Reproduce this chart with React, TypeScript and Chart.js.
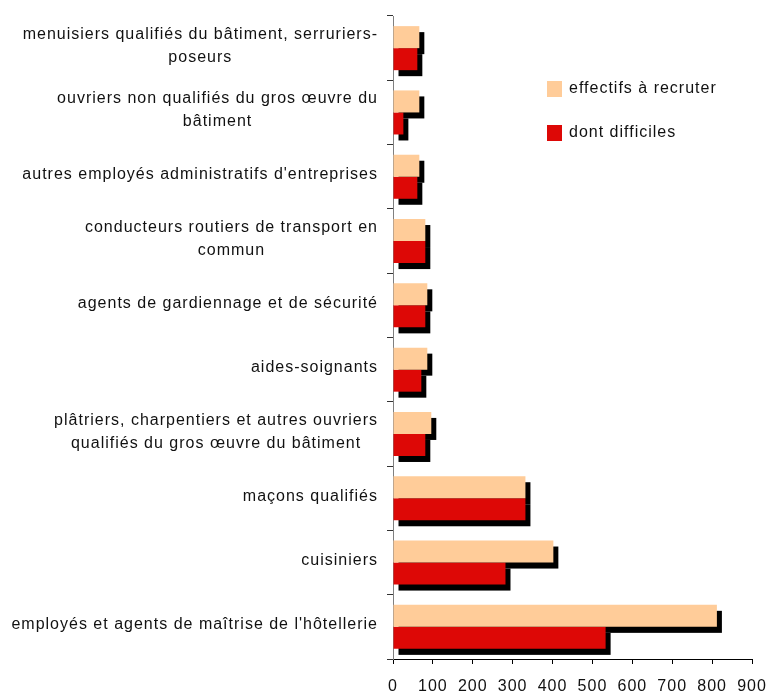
import React, { useEffect, useRef } from 'react';
import { Chart, registerables } from 'chart.js';

Chart.register(...registerables);

const categories: string[][] = [
  ['menuisiers qualifiés du bâtiment, serruriers-', 'poseurs'],
  ['ouvriers non qualifiés du gros œuvre du', 'bâtiment'],
  ["autres employés administratifs d'entreprises"],
  ['conducteurs routiers de transport en', 'commun'],
  ['agents de gardiennage et de sécurité'],
  ['aides-soignants'],
  ['plâtriers, charpentiers et autres ouvriers', 'qualifiés du gros œuvre du bâtiment'],
  ['maçons qualifiés'],
  ['cuisiniers'],
  ["employés et agents de maîtrise de l'hôtellerie"],
];
const effectifs: number[] = [66, 66, 66, 81, 86, 86, 96, 332, 402, 812];
const difficiles: number[] = [61, 26, 61, 81, 81, 71, 81, 332, 282, 533];
const seriesNames: string[] = ['effectifs à recruter', 'dont difficiles'];
const seriesColors: string[] = ['#FFCC99', '#DD0806'];
const xMin = 0;
const xMax = 900;
const xStep = 100;

const FAMILY = '"Liberation Sans", Arial, sans-serif';
const FONT = `16px ${FAMILY}`;
const TEXT = '#111111';

const customPlugin = {
  id: 'customDraw',
  beforeUpdate(chart: any) {
    chart.ctx.letterSpacing = '1px';
  },
  beforeDatasetsDraw(chart: any) {
    const ctx = chart.ctx;
    ctx.save();
    ctx.fillStyle = '#000000';
    chart.data.datasets.forEach((_ds: any, di: number) => {
      const meta = chart.getDatasetMeta(di);
      meta.data.forEach((el: any) => {
        const { x, y, base, height } = el.getProps(['x', 'y', 'base', 'height'], true);
        const left = Math.min(base, x);
        ctx.fillRect(left + 5, y - height / 2 + 6, Math.abs(x - base), height);
      });
    });
    ctx.restore();
  },
  afterDraw(chart: any) {
    const ctx = chart.ctx;
    const yScale = chart.scales.y;
    ctx.save();
    ctx.letterSpacing = '1px';
    ctx.font = FONT;
    ctx.fillStyle = TEXT;
    ctx.textBaseline = 'middle';
    ctx.textAlign = 'center';
    const labels: string[][] = chart.data.labels;
    labels.forEach((lines, i) => {
      const cy = yScale.getPixelForTick(i) - 2;
      const widths = lines.map((l) => ctx.measureText(l).width);
      const maxW = Math.max(...widths);
      const right = yScale.right - 15;
      const cx = right - maxW / 2;
      const lh = 23;
      lines.forEach((l, j) => {
        ctx.fillText(l, cx, cy + (j - (lines.length - 1) / 2) * lh);
      });
    });
    // legend
    const legendX = 547;
    const legendYs = [81, 125];
    ctx.textAlign = 'left';
    chart.data.datasets.forEach((ds: any, di: number) => {
      const ly = legendYs[di];
      ctx.fillStyle = ds.backgroundColor;
      ctx.fillRect(legendX, ly, 15, 16);
      ctx.fillStyle = TEXT;
      ctx.fillText(ds.label, legendX + 22, ly + 8);
    });
    ctx.restore();
  },
};

export default function App() {
  const ref = useRef<HTMLCanvasElement | null>(null);
  useEffect(() => {
    if (!ref.current) return;
    const chart = new Chart(ref.current, {
      type: 'bar',
      data: {
        labels: categories as any,
        datasets: [
          {
            label: seriesNames[0],
            data: effectifs,
            backgroundColor: seriesColors[0],
            borderWidth: 0,
            categoryPercentage: 0.685,
            barPercentage: 1,
          },
          {
            label: seriesNames[1],
            data: difficiles,
            backgroundColor: seriesColors[1],
            borderWidth: 0,
            categoryPercentage: 0.685,
            barPercentage: 1,
          },
        ],
      },
      options: {
        indexAxis: 'y',
        responsive: false,
        animation: false,
        devicePixelRatio: 1,
        layout: { padding: { top: 16, right: 17, left: 0, bottom: 0 } },
        plugins: {
          legend: { display: false },
          tooltip: { enabled: false },
        },
        scales: {
          x: {
            type: 'linear',
            min: xMin,
            max: xMax,
            ticks: {
              stepSize: xStep,
              color: TEXT,
              font: { family: FAMILY, size: 16 },
              padding: 13,
              maxRotation: 0,
              autoSkip: false,
            },
            grid: {
              display: true,
              drawOnChartArea: false,
              drawTicks: true,
              tickLength: 5,
              color: '#000000',
            },
            border: { color: '#000000', width: 1 },
            afterFit: (s: any) => {
              s.height = 34;
              s.paddingLeft = 0;
              s.paddingRight = 0;
              s.paddingTop = 0;
              s.paddingBottom = 0;
            },
          },
          y: {
            type: 'category',
            ticks: { display: false },
            grid: {
              display: true,
              drawOnChartArea: false,
              offset: true,
              drawTicks: true,
              tickLength: 6,
              color: '#333333',
            },
            border: { color: '#808080', width: 1 },
            afterFit: (s: any) => {
              s.width = 393;
              s.paddingTop = 0;
              s.paddingBottom = 0;
            },
          },
        },
      } as any,
      plugins: [customPlugin as any],
    });
    return () => chart.destroy();
  }, []);
  return (
    <div style={{ position: 'absolute', left: 0, top: 0, width: 769, height: 693, background: '#fff' }}>
      <canvas ref={ref} width={769} height={693} style={{ display: 'block' }} />
    </div>
  );
}
